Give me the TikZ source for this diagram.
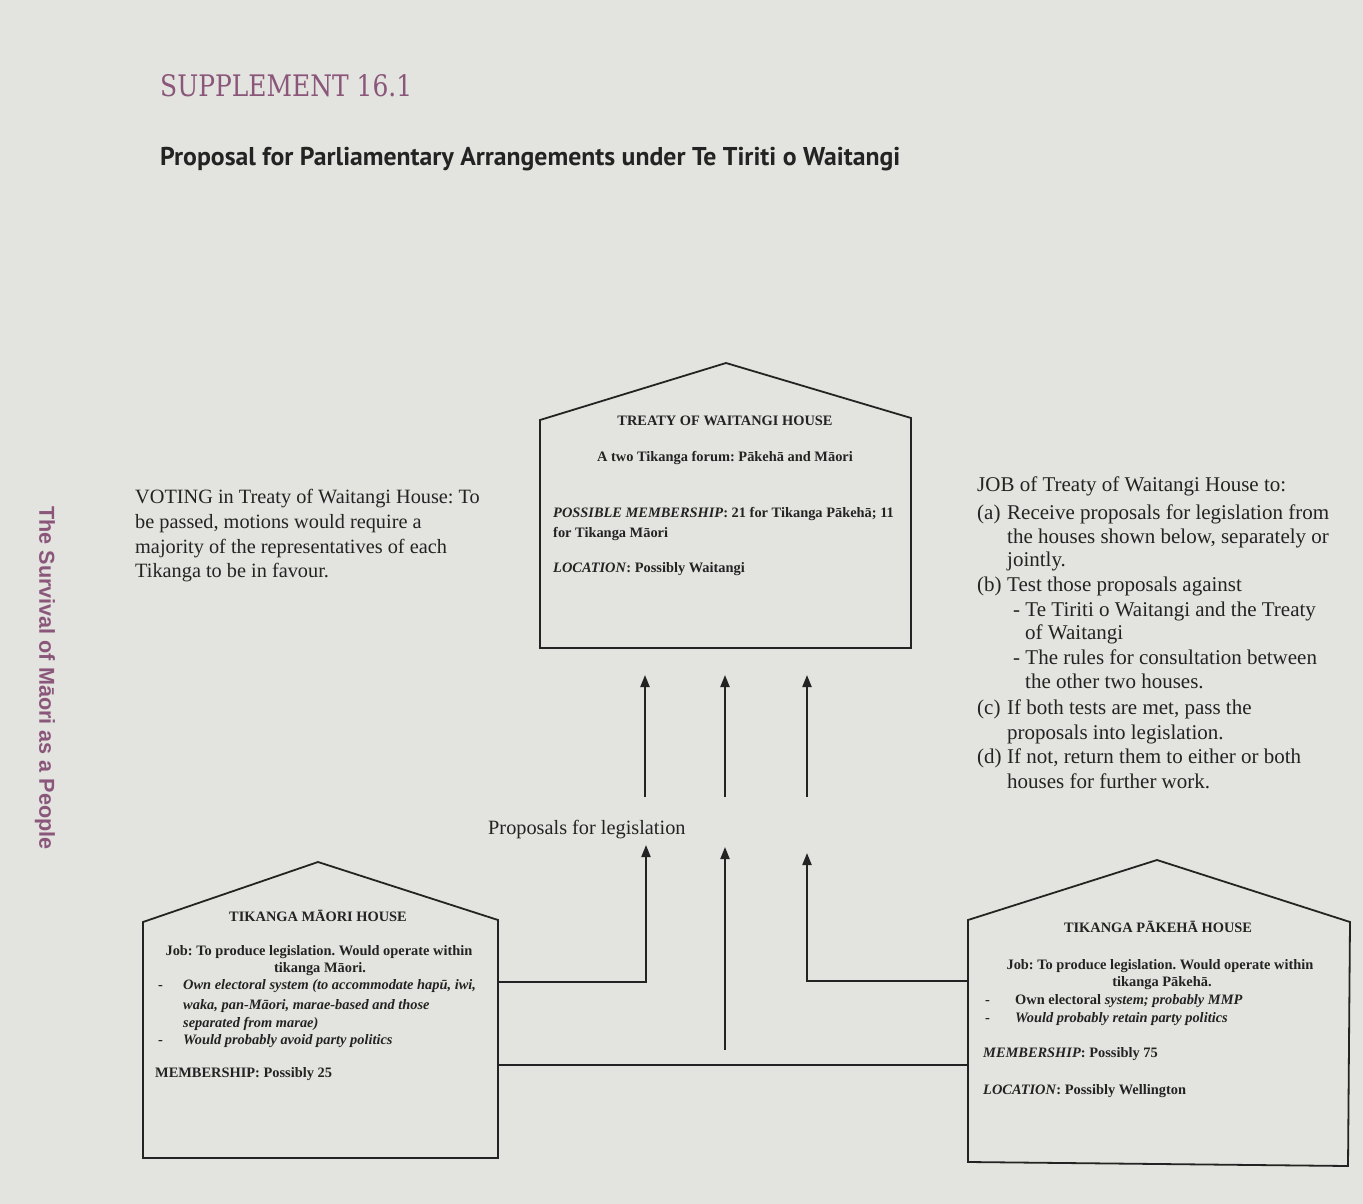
\documentclass[tikz,border=0pt]{standalone}
\usepackage{fontspec}
\setmainfont{Liberation Serif}
\newfontfamily\titlefont{PT Sans}
\newfontfamily\sidefont{Liberation Sans}
\newfontfamily\suppfont{DejaVu Serif}
\usetikzlibrary{arrows.meta}
\definecolor{paper}{RGB}{227,227,223}
\definecolor{ink}{RGB}{35,35,35}
\definecolor{mauve}{RGB}{138,86,122}
\frenchspacing
\tikzset{
  wall/.style={draw=ink, line width=1.8pt, line join=miter},
  link/.style={draw=ink, line width=2pt},
  arr/.style={link, -{Triangle[length=12pt,width=9pt]}},
  body/.style={inner sep=0pt, text=ink, font=\fontsize{20.3}{24}\selectfont, anchor=base west},
  jobtext/.style={body, font=\fontsize{21}{24}\selectfont},
  hb/.style={inner sep=0pt, text=ink, font=\fontsize{14.4}{17}\selectfont\bfseries, anchor=base west},
  hbc/.style={hb, anchor=base},
}
\begin{document}
\begin{tikzpicture}[x=1pt,y=-1pt]
\useasboundingbox (0,0) rectangle (1363,1204);
\fill[paper] (0,0) rectangle (1363,1204);

% headings
\node[inner sep=0pt, anchor=base west, text=mauve] (supp) at (160,97)
  {\resizebox{252pt}{22pt}{\suppfont SUPPLEMENT 16.1}};
\node[inner sep=0pt, anchor=base west, text=ink] (title) at (160,165)
  {\resizebox{740pt}{!}{\titlefont\bfseries Proposal for Parliamentary Arrangements under Te Tiriti o Waitangi}};
\node[inner sep=0pt, rotate=-90, text=mauve, font=\sidefont\bfseries\fontsize{21.6}{24}\selectfont] (side) at (45,678)
  {The Survival of Māori as a People};

% houses
\coordinate (t1) at (540,648); \coordinate (t2) at (540,420); \coordinate (t3) at (726,363);
\coordinate (t4) at (911,418); \coordinate (t5) at (911,648);
\draw[wall] (t1) -- (t2) -- (t3) -- (t4) -- (t5) -- cycle;
\coordinate (m1) at (143,1158); \coordinate (m2) at (143,922); \coordinate (m3) at (318,862);
\coordinate (m4) at (498,920); \coordinate (m5) at (498,1158);
\draw[wall] (m1) -- (m2) -- (m3) -- (m4) -- (m5) -- cycle;
\coordinate (p1) at (968,1162); \coordinate (p2) at (968,920); \coordinate (p3) at (1157,860);
\coordinate (p4) at (1350,922); \coordinate (p5) at (1348,1166);
\draw[wall] (p1) -- (p2) -- (p3) -- (p4) -- (p5) -- cycle;

% top house text
\node[hbc] (th1) at (725,425) {TREATY OF WAITANGI HOUSE};
\node[hbc] (th2) at (725,461) {A two Tikanga forum: Pākehā and Māori};
\node[hb] (th3) at (553,517) {\textit{POSSIBLE MEMBERSHIP}: 21 for Tikanga Pākehā; 11};
\node[hb] (th4) at (553,537) {for Tikanga Māori};
\node[hb] (th5) at (553,572) {\textit{LOCATION}: Possibly Waitangi};

% left house text
\node[hbc] (mh1) at (318,921) {TIKANGA MĀORI HOUSE};
\node[hbc] (mh2) at (319,955) {Job: To produce legislation. Would operate within};
\node[hbc] (mh3) at (320,972) {tikanga Māori.};
\node[hb] (mb1) at (158,989) {-};
\node[hb] (mh4) at (183,989) {\textit{Own electoral system (to accommodate hapū, iwi,}};
\node[hb] (mh5) at (183,1009) {\textit{waka, pan-Māori, marae-based and those}};
\node[hb] (mh6) at (183,1027) {\textit{separated from marae)}};
\node[hb] (mb2) at (158,1044) {-};
\node[hb] (mh7) at (183,1044) {\textit{Would probably avoid party politics}};
\node[hb] (mh8) at (155,1077) {MEMBERSHIP: Possibly 25};

% right house text
\node[hbc] (ph1) at (1158,932) {TIKANGA PĀKEHĀ HOUSE};
\node[hbc] (ph2) at (1160,969) {Job: To produce legislation. Would operate within};
\node[hbc] (ph3) at (1162,986) {tikanga Pākehā.};
\node[hb] (pb1) at (985,1004) {-};
\node[hb] (ph4) at (1015,1004) {Own electoral \textit{system; probably MMP}};
\node[hb] (pb2) at (985,1022) {-};
\node[hb] (ph5) at (1015,1022) {\textit{Would probably retain party politics}};
\node[hb] (ph6) at (983,1057) {\textit{MEMBERSHIP}: Possibly 75};
\node[hb] (ph7) at (983,1094) {\textit{LOCATION}: Possibly Wellington};

% voting text
\node[body] (v1) at (135,503) {VOTING in Treaty of Waitangi House: To};
\node[body] (v2) at (135,528) {be passed, motions would require a};
\node[body] (v3) at (135,553) {majority of the representatives of each};
\node[body] (v4) at (135,577) {Tikanga to be in favour.};

% job text
\node[jobtext] (j0) at (977,491) {JOB of Treaty of Waitangi House to:};
\node[jobtext] (ja) at (977,519) {(a)};
\node[jobtext] (j1) at (1007,519) {Receive proposals for legislation from};
\node[jobtext] (j2) at (1007,543) {the houses shown below, separately or};
\node[jobtext] (j3) at (1007,566) {jointly.};
\node[jobtext] (jb) at (977,591) {(b)};
\node[jobtext] (j4) at (1007,591) {Test those proposals against};
\node[jobtext] (j5) at (1013,616) {- Te Tiriti o Waitangi and the Treaty};
\node[jobtext] (j6) at (1025,639) {of Waitangi};
\node[jobtext] (j7) at (1013,664) {- The rules for consultation between};
\node[jobtext] (j8) at (1025,688) {the other two houses.};
\node[jobtext] (jc) at (977,714) {(c)};
\node[jobtext] (j9) at (1007,714) {If both tests are met, pass the};
\node[jobtext] (j10) at (1007,739) {proposals into legislation.};
\node[jobtext] (jd) at (977,763) {(d)};
\node[jobtext] (j11) at (1007,763) {If not, return them to either or both};
\node[jobtext] (j12) at (1007,788) {houses for further work.};

% label
\node[body] (prop) at (488,834) {Proposals for legislation};

% connectors
\coordinate (ua1) at (645,797); \coordinate (ut1) at (645,675);
\coordinate (ua2) at (725,797); \coordinate (ut2) at (725,675);
\coordinate (ua3) at (807,797); \coordinate (ut3) at (807,675);
\draw[arr] (ua1) -- (ut1);
\draw[arr] (ua2) -- (ut2);
\draw[arr] (ua3) -- (ut3);

\coordinate (la) at (498,982); \coordinate (lb) at (646,982); \coordinate (lt) at (646,845);
\draw[arr] (la) -- (lb) -- (lt);
\coordinate (ra) at (968,981); \coordinate (rb) at (807,981); \coordinate (rt) at (807,853);
\draw[arr] (ra) -- (rb) -- (rt);
\coordinate (ba) at (498,1065); \coordinate (bb) at (968,1065);
\draw[link] (ba) -- (bb);
\coordinate (mb) at (725,1050); \coordinate (mt) at (725,847);
\draw[arr] (mb) -- (mt);
\end{tikzpicture}
\end{document}
